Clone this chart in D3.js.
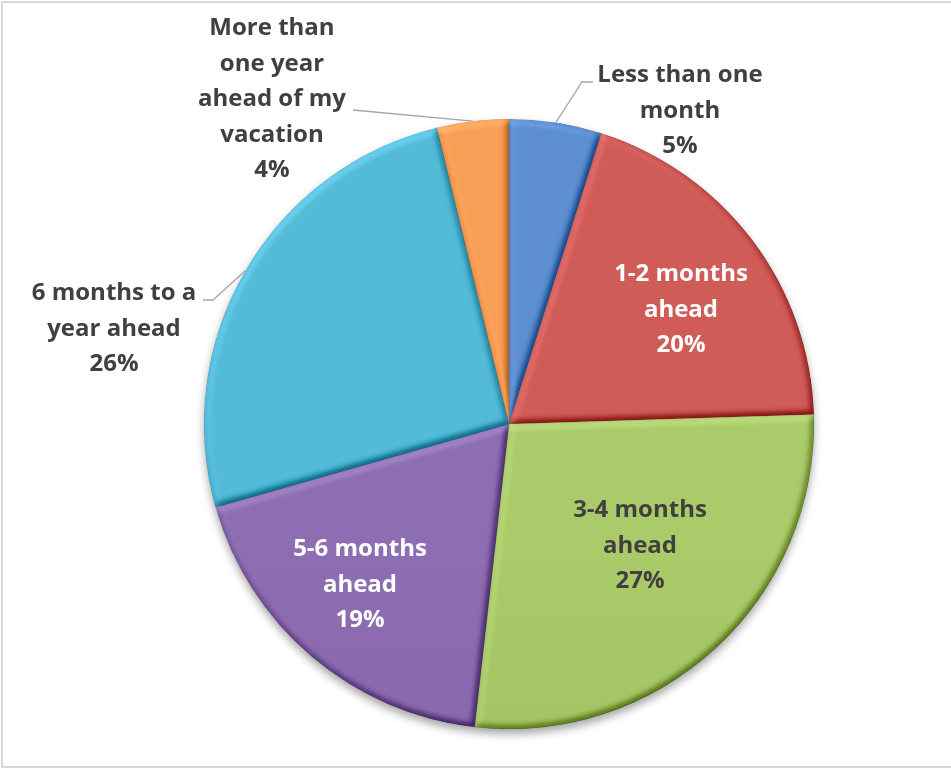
<!DOCTYPE html>
<html>
<head>
<meta charset="utf-8">
<script src="https://cdn.jsdelivr.net/npm/d3@7"></script>
<style>
  html, body { margin: 0; padding: 0; background: #fff; }
  svg { display: block; }
  text { font-family: "Open Sans", "DejaVu Sans", sans-serif; font-weight: 700; }
</style>
</head>
<body>
<svg id="chart" width="951" height="769"></svg>
<script>
// Booking lead time shares (percent of respondents)
const categories = [
  "Less than one month",
  "1-2 months ahead",
  "3-4 months ahead",
  "5-6 months ahead",
  "6 months to a year ahead",
  "More than one year ahead of my vacation"
];
const shares = [4.9, 19.6, 27.3, 18.8, 25.6, 3.8];
const baseColors = ["#4f81bd", "#c0504d", "#9bbb59", "#8064a2", "#4bacc6", "#f79646"];
const lightColors = ["#5b8ed0", "#d05b58", "#abcb6a", "#8e6eb3", "#53bad8", "#f99e56"];
const labelColors = ["#404040", "#ffffff", "#404040", "#ffffff", "#404040", "#404040"];

// Label layout: centre x, first baseline, wrap width
const labelLayout = [
  { x: 680, y: 82,  wrap: 175 },
  { x: 681, y: 281, wrap: 150 },
  { x: 640, y: 517, wrap: 150 },
  { x: 360, y: 556, wrap: 150 },
  { x: 114, y: 300, wrap: 180 },
  { x: 272, y: 35,  wrap: 160 }
];
// Leader line bends (from slice edge to label)
const leaders = [
  { index: 0, path: [[582, 82], [593, 82]] },
  { index: 4, path: [[213, 300], [203, 300]] },
  { index: 5, path: [[353, 110]] }
];

const W = 951, H = 769;
const cx = 509, cy = 424, R = 305;
const lineH = 35.5;
const fontSize = 24;

const svg = d3.select("#chart");
const defs = svg.append("defs");

// Chart frame
svg.append("rect")
  .attr("x", 2).attr("y", 2)
  .attr("width", W + 20).attr("height", H - 4)
  .attr("fill", "#fff")
  .attr("stroke", "#d9d9d9")
  .attr("stroke-width", 2);

// Per-slice vertical gradients
baseColors.forEach((c, i) => {
  const g = defs.append("linearGradient")
    .attr("id", "grad" + i)
    .attr("gradientUnits", "userSpaceOnUse")
    .attr("x1", 0).attr("y1", cy - R)
    .attr("x2", 0).attr("y2", cy + R);
  g.append("stop").attr("offset", "0%").attr("stop-color", lightColors[i]);
  g.append("stop").attr("offset", "100%").attr("stop-color", d3.color(c).darker(0.1));
});

// Soft bevel on every slice
const elev = 55;
const bevel = defs.append("filter")
  .attr("id", "bevel")
  .attr("x", "-5%").attr("y", "-5%").attr("width", "110%").attr("height", "110%")
  .attr("color-interpolation-filters", "sRGB");
bevel.append("feGaussianBlur").attr("in", "SourceAlpha").attr("stdDeviation", 3.5).attr("result", "blur");
const diff = bevel.append("feDiffuseLighting")
  .attr("in", "blur").attr("surfaceScale", 5).attr("diffuseConstant", 1)
  .attr("lighting-color", "#fff").attr("result", "light");
diff.append("feDistantLight").attr("azimuth", 235).attr("elevation", elev);
bevel.append("feComposite")
  .attr("in", "SourceGraphic").attr("in2", "light")
  .attr("operator", "arithmetic")
  .attr("k1", 0).attr("k2", 1).attr("k3", 0.42).attr("k4", -0.42 * Math.sin(elev * Math.PI / 180))
  .attr("result", "lit");
bevel.append("feComposite").attr("in", "lit").attr("in2", "SourceAlpha").attr("operator", "in");

// Drop shadow under the pie
const shadow = defs.append("filter")
  .attr("id", "shadow")
  .attr("x", "-10%").attr("y", "-10%").attr("width", "120%").attr("height", "125%");
shadow.append("feDropShadow")
  .attr("dx", 0).attr("dy", 5).attr("stdDeviation", 4)
  .attr("flood-color", "#000").attr("flood-opacity", 0.35);

const pie = d3.pie().sort(null).value(d => d);
const arcs = pie(shares);
const arc = d3.arc().innerRadius(0).outerRadius(R);

const pieG = svg.append("g")
  .attr("filter", "url(#shadow)")
  .append("g")
  .attr("transform", `translate(${cx},${cy})`);

pieG.selectAll("path.slice")
  .data(arcs)
  .join("path")
  .attr("class", "slice")
  .attr("d", arc)
  .attr("fill", (d, i) => `url(#grad${i})`)
  .attr("filter", "url(#bevel)")
  .attr("stroke", (d, i) => d3.color(baseColors[i]).darker(0.8))
  .attr("stroke-opacity", 0.4)
  .attr("stroke-width", 0.8);

// Leader lines
const edgePoint = d => {
  const a = (d.startAngle + d.endAngle) / 2;
  return [cx + R * Math.sin(a), cy - R * Math.cos(a)];
};
leaders.forEach(l => {
  const pts = [edgePoint(arcs[l.index])].concat(l.path);
  svg.append("path")
    .attr("d", d3.line()(pts))
    .attr("fill", "none")
    .attr("stroke", "#a6a6a6")
    .attr("stroke-width", 1.3);
});

// Labels: wrapped category name plus rounded share
const labels = svg.append("g");
arcs.forEach((d, i) => {
  const lay = labelLayout[i];
  const t = labels.append("text")
    .attr("text-anchor", "middle")
    .attr("font-size", fontSize)
    .attr("fill", labelColors[i]);
  const words = categories[i].split(" ");
  const lines = [];
  let cur = [];
  const probe = t.append("tspan");
  words.forEach(w => {
    const trial = cur.concat([w]).join(" ");
    probe.text(trial);
    if (cur.length && probe.node().getComputedTextLength() > lay.wrap) {
      lines.push(cur.join(" "));
      cur = [w];
    } else {
      cur.push(w);
    }
  });
  if (cur.length) lines.push(cur.join(" "));
  probe.remove();
  lines.push(Math.round(d.data) + "%");
  lines.forEach((ln, k) => {
    t.append("tspan")
      .attr("x", lay.x)
      .attr("y", lay.y + k * lineH)
      .text(ln);
  });
});
</script>
</body>
</html>
